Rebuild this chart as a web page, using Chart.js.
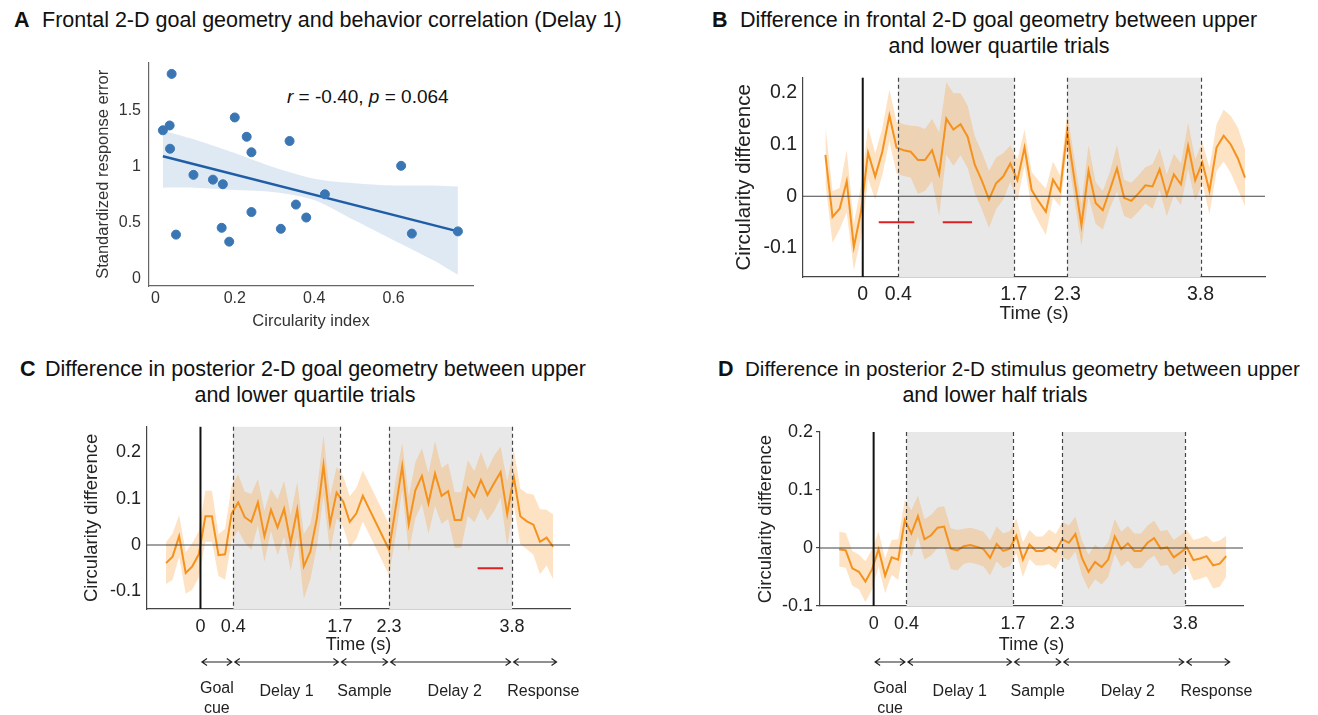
<!DOCTYPE html>
<html>
<head>
<meta charset="utf-8">
<script src="https://cdn.jsdelivr.net/npm/chart.js@4.4.1/dist/chart.umd.min.js"></script>
<style>
    body { margin: 0; background: #fff; width: 1318px; height: 715px; position: relative; overflow: hidden;
           font-family: "Liberation Sans", Arial, Helvetica, sans-serif; color: #111; }
    .box { position: absolute; }
    .ttl { position: absolute; font-size: 21.5px; line-height: 26px; white-space: nowrap; }
    .mid { transform: translateX(-50%); }
    .note { position: absolute; font-size: 19px; white-space: nowrap; }
</style>
</head>
<body>

<div class="ttl" style="left:14px;top:7px"><b>A</b></div>
<div class="ttl" style="left:42px;top:7px">Frontal 2-D goal geometry and behavior correlation (Delay 1)</div>

<div class="ttl" style="left:712px;top:7px"><b>B</b></div>
<div class="ttl" style="left:740px;top:7px">Difference in frontal 2-D goal geometry between upper</div>
<div class="ttl mid" style="left:999px;top:33px">and lower quartile trials</div>

<div class="ttl" style="left:20px;top:356px"><b>C</b></div>
<div class="ttl" style="left:45px;top:356px">Difference in posterior 2-D goal geometry between upper</div>
<div class="ttl mid" style="left:305px;top:382px">and lower quartile trials</div>

<div class="ttl" style="left:718px;top:356px"><b>D</b></div>
<div class="ttl" style="left:745px;top:356px;font-size:20.6px">Difference in posterior 2-D stimulus geometry between upper</div>
<div class="ttl mid" style="left:995px;top:382px">and lower half trials</div>

<div class="note" style="left:287px;top:86px"><i>r</i> = -0.40, <i>p</i> = 0.064</div>

<div class="box" style="left:80px;top:45px"><canvas id="chartA" width="420" height="300" style="width:420px;height:300px"></canvas></div>
<div class="box" style="left:720px;top:60px"><canvas id="chartB" width="590" height="270" style="width:590px;height:270px"></canvas></div>
<div class="box" style="left:80px;top:410px"><canvas id="chartC" width="520" height="305" style="width:520px;height:305px"></canvas></div>
<div class="box" style="left:740px;top:415px"><canvas id="chartD" width="520" height="300" style="width:520px;height:300px"></canvas></div>

<script>
// DATA - panel A (one point per session)
const circularity = [0.019, 0.036, 0.041, 0.037, 0.052, 0.096, 0.145, 0.170, 0.167, 0.186, 0.200,
                     0.230, 0.242, 0.242, 0.316, 0.338, 0.354, 0.380, 0.427, 0.619, 0.646, 0.762];
const respError = [1.324, 1.367, 1.829, 1.159, 0.390, 0.925, 0.882, 0.841, 0.451, 0.327, 1.439,
                   1.266, 1.127, 0.592, 0.442, 1.228, 0.659, 0.543, 0.751, 1.006, 0.399, 0.419];
const fitX = [0.019, 0.762];
const fitY = [1.092, 0.419];
const ciX = [0.019, 0.1, 0.2, 0.3, 0.4, 0.5, 0.6, 0.7, 0.762];
const ciUpper = [1.32, 1.24, 1.12, 0.99, 0.89, 0.85, 0.83, 0.83, 0.82];
const ciLower = [0.81, 0.81, 0.79, 0.77, 0.70, 0.52, 0.34, 0.16, 0.03];
const tickA_x = [0, 0.2, 0.4, 0.6];
const tickA_y = [0, 0.5, 1, 1.5];

// DATA - time courses (B, C, D)
const times = [-0.42, -0.34, -0.26, -0.18, -0.10, -0.02, 0.06, 0.14, 0.22, 0.30,
               0.38, 0.46, 0.54, 0.62, 0.70, 0.78, 0.86, 0.94, 1.02, 1.10,
               1.18, 1.26, 1.34, 1.42, 1.50, 1.58, 1.66, 1.74, 1.82, 1.90,
               1.98, 2.06, 2.14, 2.22, 2.30, 2.38, 2.46, 2.54, 2.62, 2.70,
               2.78, 2.86, 2.94, 3.02, 3.10, 3.18, 3.26, 3.34, 3.42, 3.50,
               3.58, 3.66, 3.74, 3.82, 3.90, 3.98, 4.06, 4.14, 4.22, 4.30];

const frontalGoal = [0.080, -0.040, -0.024, 0.029, -0.098, -0.030, 0.084, 0.038, 0.086, 0.156,
                     0.094, 0.089, 0.086, 0.070, 0.070, 0.089, 0.043, 0.150, 0.129, 0.139,
                     0.115, 0.061, 0.030, -0.006, 0.025, 0.038, 0.063, 0.031, 0.094, 0.012,
                     -0.010, -0.030, 0.032, 0.010, 0.126, 0.034, -0.056, 0.049, -0.013, -0.027,
                     0.012, 0.054, -0.003, -0.009, 0.005, 0.021, 0.019, 0.052, 0.002, 0.042,
                     0.023, 0.097, 0.031, 0.065, 0.010, 0.094, 0.117, 0.100, 0.073, 0.036];
const frontalGoalErr = [0.055, 0.050, 0.040, 0.060, 0.045, 0.050, 0.050, 0.045, 0.045, 0.050,
                        0.050, 0.050, 0.050, 0.065, 0.060, 0.060, 0.080, 0.070, 0.070, 0.060,
                        0.060, 0.055, 0.055, 0.055, 0.050, 0.045, 0.035, 0.040, 0.035, 0.035,
                        0.040, 0.045, 0.035, 0.030, 0.035, 0.040, 0.040, 0.050, 0.040, 0.037,
                        0.035, 0.045, 0.035, 0.035, 0.035, 0.035, 0.043, 0.040, 0.040, 0.040,
                        0.040, 0.045, 0.040, 0.040, 0.045, 0.045, 0.050, 0.055, 0.060, 0.055];

const posteriorGoal = [-0.039, -0.025, 0.019, -0.060, -0.046, -0.020, 0.062, 0.062, -0.022, -0.020,
                       0.068, 0.092, 0.060, 0.050, 0.092, 0.019, 0.076, 0.038, 0.078, 0.005,
                       0.076, -0.046, -0.014, 0.058, 0.172, 0.046, 0.113, 0.094, 0.050, 0.068,
                       0.106, 0.077, 0.048, 0.019, -0.010, 0.080, 0.170, 0.045, 0.118, 0.149,
                       0.090, 0.154, 0.106, 0.116, 0.054, 0.054, 0.123, 0.104, 0.140, 0.108,
                       0.133, 0.157, 0.067, 0.147, 0.062, 0.051, 0.044, 0.007, 0.016, -0.004];
const posteriorGoalErr = [0.045, 0.050, 0.045, 0.045, 0.050, 0.050, 0.055, 0.055, 0.045, 0.055,
                          0.060, 0.060, 0.055, 0.060, 0.050, 0.055, 0.045, 0.060, 0.060, 0.060,
                          0.060, 0.070, 0.060, 0.060, 0.065, 0.060, 0.055, 0.055, 0.055, 0.055,
                          0.055, 0.055, 0.055, 0.055, 0.055, 0.060, 0.050, 0.060, 0.060, 0.060,
                          0.065, 0.070, 0.060, 0.060, 0.060, 0.060, 0.060, 0.055, 0.060, 0.055,
                          0.060, 0.055, 0.070, 0.060, 0.060, 0.060, 0.065, 0.070, 0.060, 0.070];

const posteriorStim = [-0.002, -0.004, -0.035, -0.041, -0.058, -0.037, -0.002, -0.048, -0.016, -0.020,
                       0.048, 0.025, 0.055, 0.015, 0.022, 0.035, 0.037, -0.001, -0.004, 0.003,
                       0.005, 0.002, -0.002, -0.017, 0.007, -0.005, -0.001, 0.021, -0.020, 0.006,
                       -0.005, -0.005, 0.002, -0.006, 0.015, 0.009, 0.024, -0.017, -0.041, -0.024,
                       -0.033, -0.020, 0.020, -0.002, 0.008, -0.005, -0.005, 0.009, 0.017, -0.001,
                       0.001, -0.016, -0.008, 0.001, -0.021, -0.018, -0.014, -0.030, -0.027, -0.014];
const posteriorStimErr = [0.030, 0.030, 0.030, 0.030, 0.035, 0.035, 0.030, 0.030, 0.030, 0.035,
                          0.035, 0.040, 0.035, 0.035, 0.035, 0.035, 0.035, 0.035, 0.035, 0.030,
                          0.030, 0.030, 0.030, 0.030, 0.030, 0.030, 0.030, 0.030, 0.030, 0.025,
                          0.025, 0.025, 0.030, 0.030, 0.030, 0.030, 0.030, 0.030, 0.030, 0.030,
                          0.030, 0.030, 0.030, 0.030, 0.030, 0.030, 0.030, 0.030, 0.030, 0.030,
                          0.030, 0.030, 0.030, 0.030, 0.035, 0.035, 0.035, 0.040, 0.040, 0.035];

// significance bars (red)
const sigB_start = [0.18, 0.90];
const sigB_end = [0.58, 1.23];
const sigC_start = [3.38];
const sigC_end = [3.69];
const sigLevel = -0.05;

// task epochs
const eventTimes = [0.4, 1.7, 2.3, 3.8];
const delayStart = [0.4, 2.3];
const delayEnd = [1.7, 3.8];
const timeTicks = [0, 0.4, 1.7, 2.3, 3.8];
const diffTicks = [-0.1, 0, 0.1, 0.2];
const phaseEdges = [0, 0.4, 1.7, 2.3, 3.8, 4.36];
const phaseNames = [["Goal", "cue"], ["Delay 1"], ["Sample"], ["Delay 2"], ["Response"]];
const phaseLabelAt = [0.2, 1.05, 2.0, 3.1, 4.18];


Chart.defaults.font.family = '"Liberation Sans", Arial, Helvetica, sans-serif';
Chart.defaults.color = '#222';
Chart.defaults.animation = false;

const FONT = '"Liberation Sans", Arial, Helvetica, sans-serif';
const ORANGE = '#F5921E';
const BAND = 'rgba(247, 160, 55, 0.30)';

function fmt(v) {
    if (Math.abs(v) < 1e-9) return '0';
    return String(v);
}

function drawArrow(ctx, x1, x2, y) {
    ctx.beginPath();
    ctx.moveTo(x1, y); ctx.lineTo(x2, y);
    ctx.moveTo(x1 + 5, y - 3.5); ctx.lineTo(x1, y); ctx.lineTo(x1 + 5, y + 3.5);
    ctx.moveTo(x2 - 5, y - 3.5); ctx.lineTo(x2, y); ctx.lineTo(x2 - 5, y + 3.5);
    ctx.stroke();
}

// EPOCH SHADING, EVENT LINES, TIME AXIS TITLE, PHASE ARROWS
const epochPlugin = {
    id: 'epochs',
    beforeDatasetsDraw(chart) {
        const {ctx, chartArea: a, scales: {x}} = chart;
        ctx.save();
        ctx.fillStyle = '#e8e8e8';
        for (let k = 0; k < delayStart.length; k++) {
            const x1 = x.getPixelForValue(delayStart[k]);
            const x2 = x.getPixelForValue(delayEnd[k]);
            ctx.fillRect(x1, a.top, x2 - x1, a.bottom - a.top);
        }
        ctx.restore();
    },
    afterDatasetsDraw(chart, args, opts) {
        const {ctx, chartArea: a, scales: {x, y}} = chart;
        ctx.save();

        // zero line
        const y0 = y.getPixelForValue(0);
        ctx.strokeStyle = '#444';
        ctx.lineWidth = 1.2;
        ctx.beginPath(); ctx.moveTo(a.left, y0); ctx.lineTo(a.right, y0); ctx.stroke();

        // dashed epoch boundaries
        ctx.strokeStyle = '#444';
        ctx.setLineDash([4, 3]);
        eventTimes.forEach(t => {
            const px = Math.round(x.getPixelForValue(t)) + 0.5;
            ctx.beginPath(); ctx.moveTo(px, a.top); ctx.lineTo(px, a.bottom); ctx.stroke();
        });
        ctx.setLineDash([]);

        // goal cue onset
        const p0 = x.getPixelForValue(0);
        ctx.strokeStyle = '#111';
        ctx.lineWidth = 2;
        ctx.beginPath(); ctx.moveTo(p0, a.top); ctx.lineTo(p0, a.bottom); ctx.stroke();

        // x title
        ctx.fillStyle = '#222';
        ctx.font = opts.titleSize + 'px ' + FONT;
        ctx.textAlign = 'center';
        ctx.textBaseline = 'middle';
        ctx.fillText('Time (s)', (a.left + a.right) / 2, a.bottom + opts.titleGap);

        // phase arrows below the time axis
        if (opts.arrowGap) {
            const ay = a.bottom + opts.arrowGap;
            ctx.strokeStyle = '#222';
            ctx.lineWidth = 1.2;
            for (let k = 0; k < phaseEdges.length - 1; k++) {
                const x1 = x.getPixelForValue(phaseEdges[k]) + 1.5;
                const x2 = x.getPixelForValue(phaseEdges[k + 1]) - 1.5;
                drawArrow(ctx, x1, x2, ay);
            }
            ctx.font = '16px ' + FONT;
            phaseNames.forEach((lines, k) => {
                const lx = x.getPixelForValue(phaseLabelAt[k]);
                if (lines.length === 1) {
                    ctx.fillText(lines[0], lx, ay + 30);
                } else {
                    ctx.fillText(lines[0], lx, ay + 27);
                    ctx.fillText(lines[1], lx, ay + 47);
                }
            });
        }
        ctx.restore();
    }
};

function sigPoints(starts, ends) {
    const pts = [];
    for (let k = 0; k < starts.length; k++) {
        if (k > 0) pts.push({x: (ends[k - 1] + starts[k]) / 2, y: null});
        pts.push({x: starts[k], y: sigLevel});
        pts.push({x: ends[k], y: sigLevel});
    }
    return pts;
}

function traceChart(id, vals, errs, cfg) {
    const mean = vals.map((v, i) => ({x: times[i], y: v}));
    const upper = vals.map((v, i) => ({x: times[i], y: v + errs[i]}));
    const lower = vals.map((v, i) => ({x: times[i], y: v - errs[i]}));

    return new Chart(document.getElementById(id), {
        type: 'line',
        data: {
            datasets: [
                { data: mean, borderColor: ORANGE, borderWidth: 2, pointRadius: 0, tension: 0, fill: false },
                { data: sigPoints(cfg.sigStart, cfg.sigEnd), borderColor: '#E02020', borderWidth: 2,
                  pointRadius: 0, spanGaps: false, fill: false },
                { data: upper, borderWidth: 0, borderColor: 'rgba(0,0,0,0)', pointRadius: 0,
                  backgroundColor: BAND, fill: '+1' },
                { data: lower, borderWidth: 0, borderColor: 'rgba(0,0,0,0)', pointRadius: 0, fill: false }
            ]
        },
        options: {
            responsive: false,
            layout: { padding: { top: cfg.padTop, right: cfg.padRight, left: 0, bottom: 0 } },
            plugins: {
                legend: { display: false },
                tooltip: { enabled: false },
                epochs: { titleGap: cfg.titleGap, titleSize: cfg.titleSize, arrowGap: cfg.arrowGap }
            },
            scales: {
                x: {
                    type: 'linear', min: cfg.xMin, max: cfg.xMax,
                    grid: { display: false, drawTicks: false, tickLength: 0 },
                    border: { display: true, color: '#444', width: 1.2 },
                    afterBuildTicks: s => { s.ticks = timeTicks.map(v => ({value: v})); },
                    afterFit: s => { s.height = cfg.xHeight; },
                    ticks: { autoSkip: false, maxRotation: 0, padding: cfg.xTickPad,
                             font: { size: cfg.tickSize }, color: '#222', callback: v => fmt(v) }
                },
                y: {
                    min: cfg.yMin, max: cfg.yMax,
                    grid: cfg.yTickMarks
                        ? { display: true, drawOnChartArea: false, drawTicks: true, tickLength: 4, color: '#444', lineWidth: 1.2 }
                        : { display: false, drawTicks: false, tickLength: 0 },
                    border: { display: true, color: '#444', width: 1.2 },
                    afterBuildTicks: s => { s.ticks = diffTicks.map(v => ({value: v})); },
                    afterFit: s => { s.width = cfg.yWidth; },
                    ticks: { autoSkip: false, padding: cfg.yTickMarks ? 3 : 6, font: { size: cfg.tickSize }, color: '#222',
                             callback: v => fmt(v) },
                    title: { display: true, text: 'Circularity difference', color: '#222',
                             font: { size: cfg.yTitleSize }, padding: { top: cfg.yTitlePad, bottom: 0 } }
                }
            }
        },
        plugins: [epochPlugin]
    });
}

// PANEL A - SCATTER WITH REGRESSION
new Chart(document.getElementById('chartA'), {
    type: 'scatter',
    data: {
        datasets: [
            { data: circularity.map((c, i) => ({x: c, y: respError[i]})), backgroundColor: '#3A76B3',
              borderColor: '#3A76B3', pointRadius: 4.5, order: 0 },
            { data: fitX.map((v, i) => ({x: v, y: fitY[i]})), showLine: true, borderColor: '#1F5EA6',
              borderWidth: 2.5, pointRadius: 0, order: 1 },
            { data: ciX.map((v, i) => ({x: v, y: ciUpper[i]})), showLine: true, borderWidth: 0,
              borderColor: 'rgba(0,0,0,0)', pointRadius: 0, backgroundColor: 'rgba(80,135,195,0.18)',
              fill: '+1', tension: 0.3, order: 2 },
            { data: ciX.map((v, i) => ({x: v, y: ciLower[i]})), showLine: true, borderWidth: 0,
              borderColor: 'rgba(0,0,0,0)', pointRadius: 0, tension: 0.3, order: 3 }
        ]
    },
    options: {
        responsive: false,
        layout: { padding: { top: 10, right: 27, left: 0, bottom: 0 } },
        plugins: { legend: { display: false }, tooltip: { enabled: false } },
        scales: {
            x: {
                type: 'linear', min: -0.016, max: 0.80,
                grid: { display: false, drawTicks: false, tickLength: 0 },
                border: { display: true, color: '#666', width: 1.2 },
                afterBuildTicks: s => { s.ticks = tickA_x.map(v => ({value: v})); },
                afterFit: s => { s.height = 59; },
                ticks: { autoSkip: false, maxRotation: 0, padding: 3, font: { size: 16 }, color: '#333',
                         callback: v => fmt(v) },
                title: { display: true, text: 'Circularity index', color: '#333', font: { size: 16.5 },
                         padding: { top: 0, bottom: 14 } }
            },
            y: {
                min: -0.07, max: 1.93,
                grid: { display: false, drawTicks: false, tickLength: 0 },
                border: { display: true, color: '#666', width: 1.2 },
                afterBuildTicks: s => { s.ticks = tickA_y.map(v => ({value: v})); },
                afterFit: s => { s.width = 69; },
                ticks: { autoSkip: false, padding: 8, font: { size: 16 }, color: '#333', callback: v => fmt(v) },
                title: { display: true, text: 'Standardized response error', color: '#333', font: { size: 16.5 },
                         padding: { top: 14, bottom: 0 } }
            }
        }
    }
});

// PANELS B, C, D
traceChart('chartB', frontalGoal, frontalGoalErr, {
    sigStart: sigB_start, sigEnd: sigB_end,
    xMin: -0.672, xMax: 4.525, yMin: -0.156, yMax: 0.229,
    padTop: 17, padRight: 45, xHeight: 53, yWidth: 83,
    tickSize: 19.5, xTickPad: 6, yTitleSize: 20.5, yTitlePad: 12, titleSize: 19, titleGap: 37, arrowGap: 0,
    yTickMarks: false
});

traceChart('chartC', posteriorGoal, posteriorGoalErr, {
    sigStart: sigC_start, sigEnd: sigC_end,
    xMin: -0.652, xMax: 4.506, yMin: -0.138, yMax: 0.255,
    padTop: 14, padRight: 30, xHeight: 106, yWidth: 67,
    tickSize: 18, xTickPad: 7, yTitleSize: 18.5, yTitlePad: 1, titleSize: 18, titleGap: 36, arrowGap: 53,
    yTickMarks: false
});

traceChart('chartD', posteriorStim, posteriorStimErr, {
    sigStart: [], sigEnd: [],
    xMin: -0.654, xMax: 4.504, yMin: -0.1, yMax: 0.2,
    padTop: 17, padRight: 17, xHeight: 109, yWidth: 80,
    tickSize: 18, xTickPad: 7, yTitleSize: 18.5, yTitlePad: 15, titleSize: 18, titleGap: 39, arrowGap: 56,
    yTickMarks: true
});
</script>
</body>
</html>
